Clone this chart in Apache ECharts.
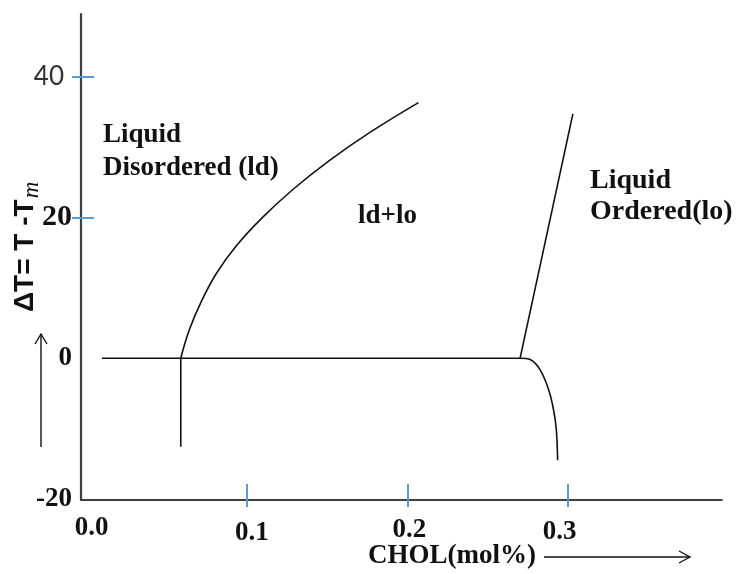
<!DOCTYPE html>
<html>
<head>
<meta charset="utf-8">
<script src="https://cdn.jsdelivr.net/npm/echarts@6/dist/echarts.min.js"></script>
<style>
  html, body { margin: 0; padding: 0; background: #fff; }
  #chart { width: 737px; height: 574px; }
</style>
</head>
<body>
<div id="chart"></div>
<script>
// Phase diagram: cholesterol fraction (x) against ΔT = T - Tm (y)
const xTickLabels = [0, 0.1, 0.2, 0.3];
const xTicks = [0.1, 0.2, 0.3];
const yTickLabels = [-20, 0, 20, 40];
const yTicks = [20, 40];

// horizontal three-phase line at ΔT = 0
const tieLine = [[0.0096, 0], [0.2703, 0]];
// ld side, below ΔT = 0
const ldBelow = [[0.0587, 0], [0.0587, -12.6]];
// ld / ld+lo boundary
const ldBoundary = [
  [0.0587, 0], [0.0640, 4], [0.0714, 8], [0.0808, 12], [0.0935, 16],
  [0.1097, 20], [0.1288, 24], [0.1509, 28], [0.1762, 32], [0.2069, 36.3]
];
// ld+lo / lo boundary
const loBoundary = [[0.2703, 0], [0.3032, 34.7]];
// lo side, below ΔT = 0
const loBelow = [
  [0.2703, 0], [0.2766, -0.2], [0.2829, -1.7], [0.2881, -4.5],
  [0.2912, -7.4], [0.2929, -10.2], [0.2937, -14.5]
];

const X_MIN = -0.0035, X_MAX = 0.396;
const Y_MIN = -20.15, Y_MAX = 48.9;

const serif = '"Liberation Serif", "Times New Roman", serif';
const axisGrey = '#3f3f3f';
const tickBlue = '#5b9bd5';
const ink = '#111';

function curve(data, smooth) {
  return {
    type: 'line', data: data, smooth: smooth, showSymbol: false, symbol: 'none',
    lineStyle: { color: ink, width: 1.6 }, silent: true
  };
}

// width of the y title body, so the italic subscript can follow it
const titleFont = 'bold 28px "Liberation Sans", Arial, sans-serif';
const titleBody = 'ΔT= T -T';
const measureCtx = document.createElement('canvas').getContext('2d');
measureCtx.font = titleFont;
const titleWidth = measureCtx.measureText(titleBody).width;
const titleStartY = 312;

const chart = echarts.init(document.getElementById('chart'), null, { renderer: 'canvas' });

chart.setOption({
  animation: false,
  backgroundColor: '#fff',
  grid: { left: 81, top: 14, width: 640.7, height: 486, containLabel: false },
  xAxis: [
    {
      type: 'value', min: X_MIN, max: X_MAX, position: 'bottom',
      axisLine: { show: true, onZero: false, lineStyle: { color: axisGrey, width: 2.2 } },
      axisTick: { show: true, inside: true, length: 16, customValues: xTicks, lineStyle: { color: tickBlue, width: 2 } },
      axisLabel: {
        customValues: xTickLabels, margin: 15,
        formatter: function (v) { return '{t' + Math.round(v * 10) + '|' + v.toFixed(1) + '}'; },
        rich: {
          t0: { fontFamily: serif, fontWeight: 'bold', fontSize: 27, color: ink, padding: [0, 0, 0, 10] },
          t1: { fontFamily: serif, fontWeight: 'bold', fontSize: 27, color: ink, padding: [5, 0, 0, 10] },
          t2: { fontFamily: serif, fontWeight: 'bold', fontSize: 27, color: ink, padding: [2, 0, 0, 4] },
          t3: { fontFamily: serif, fontWeight: 'bold', fontSize: 27, color: ink, padding: [4, 16, 0, 0] }
        }
      },
      splitLine: { show: false }
    },
    {
      type: 'value', min: X_MIN, max: X_MAX, position: 'bottom',
      axisLine: { show: false, onZero: false },
      axisTick: { show: true, inside: false, length: 7, customValues: xTicks, lineStyle: { color: tickBlue, width: 2 } },
      axisLabel: { show: false },
      splitLine: { show: false }
    }
  ],
  yAxis: [
    {
      type: 'value', min: Y_MIN, max: Y_MAX, position: 'left',
      axisLine: { show: true, onZero: false, lineStyle: { color: axisGrey, width: 2.2 } },
      axisTick: { show: true, inside: true, length: 13, customValues: yTicks, lineStyle: { color: tickBlue, width: 2 } },
      axisLabel: {
        customValues: yTickLabels, margin: 9,
        formatter: function (v) {
          if (v === 40) return '{s|40}';
          if (v === 20) return '{w|20}';
          return '{b|' + v + '}';
        },
        rich: {
          s: { fontFamily: 'Lato, "Open Sans", sans-serif', fontSize: 26, color: '#333', padding: [0, 8, 0, 0] },
          w: { fontFamily: serif, fontWeight: 'bold', fontSize: 30, color: ink },
          b: { fontFamily: serif, fontWeight: 'bold', fontSize: 27, color: ink }
        }
      },
      splitLine: { show: false }
    },
    {
      type: 'value', min: Y_MIN, max: Y_MAX, position: 'left',
      axisLine: { show: false, onZero: false },
      axisTick: { show: true, inside: false, length: 9, customValues: yTicks, lineStyle: { color: tickBlue, width: 2 } },
      axisLabel: { show: false },
      splitLine: { show: false }
    }
  ],
  series: [
    curve(tieLine, false),
    curve(ldBelow, false),
    curve(ldBoundary, 0.4),
    curve(loBoundary, false),
    curve(loBelow, 0.35)
  ],
  graphic: [
    // y-axis title, reading upwards, with italic subscript m
    {
      type: 'text', x: 25, y: titleStartY, rotation: Math.PI / 2,
      style: { text: titleBody, font: titleFont, fill: ink, align: 'left', verticalAlign: 'middle' }
    },
    {
      type: 'text', x: 32, y: titleStartY - titleWidth - 1, rotation: Math.PI / 2,
      style: { text: 'm', font: 'italic 23px "Liberation Serif", serif', fill: ink, align: 'left', verticalAlign: 'middle' }
    },
    // upward arrow beside the y title
    { type: 'line', shape: { x1: 41, y1: 447, x2: 41, y2: 334 }, style: { stroke: ink, lineWidth: 1.4 } },
    { type: 'polyline', shape: { points: [[35, 344], [41, 334], [47, 344]] }, style: { stroke: ink, lineWidth: 1.4, fill: null } },
    // x-axis title with arrow
    {
      type: 'text', x: 368, y: 556,
      style: { text: 'CHOL(mol%)', font: 'bold 27px ' + serif, fill: ink, align: 'left', verticalAlign: 'middle' }
    },
    { type: 'line', shape: { x1: 544, y1: 557, x2: 690, y2: 557 }, style: { stroke: ink, lineWidth: 1.4 } },
    { type: 'polyline', shape: { points: [[679, 551], [690, 557], [679, 563]] }, style: { stroke: ink, lineWidth: 1.4, fill: null } },
    // region labels
    { type: 'text', x: 103, y: 135, style: { text: 'Liquid', font: 'bold 27px ' + serif, fill: ink, align: 'left', verticalAlign: 'middle' } },
    { type: 'text', x: 103, y: 168, style: { text: 'Disordered (ld)', font: 'bold 27px ' + serif, fill: ink, align: 'left', verticalAlign: 'middle' } },
    { type: 'text', x: 358, y: 216, style: { text: 'ld+lo', font: 'bold 27px ' + serif, fill: ink, align: 'left', verticalAlign: 'middle' } },
    { type: 'text', x: 590, y: 181, style: { text: 'Liquid', font: 'bold 28px ' + serif, fill: ink, align: 'left', verticalAlign: 'middle' } },
    { type: 'text', x: 590, y: 212, style: { text: 'Ordered(lo)', font: 'bold 28px ' + serif, fill: ink, align: 'left', verticalAlign: 'middle' } }
  ]
});
</script>
</body>
</html>
